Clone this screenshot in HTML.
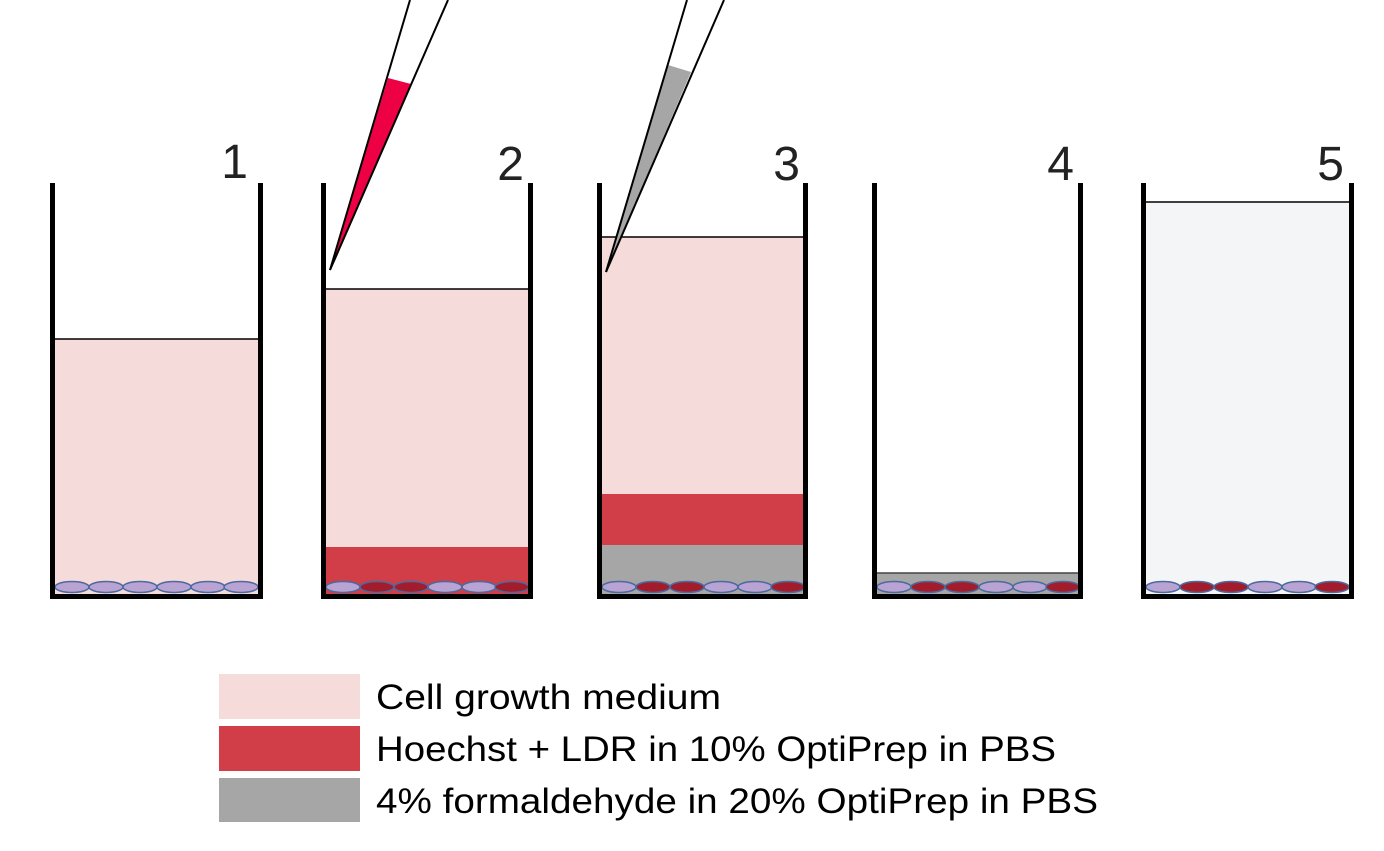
<!DOCTYPE html>
<html><head><meta charset="utf-8"><style>
html,body{margin:0;padding:0;background:#fff;}
svg{display:block;}
text{font-family:"Liberation Sans",sans-serif;}
</style></head><body>
<svg width="1384" height="851" viewBox="0 0 1384 851">
<defs>
<g id="cellL"><ellipse rx="17" ry="5.5" fill="#b9a3d3" stroke="#4a6aa0" stroke-width="1.5"/></g>
<g id="cellR"><ellipse rx="17" ry="5.5" fill="#a31c2c" stroke="#4a6aa0" stroke-width="1.5"/></g>
</defs>

<g>
<rect x="55" y="339" width="203" height="255" fill="#f6dbdb"/>
<line x1="55" y1="339" x2="258" y2="339" stroke="#000" stroke-width="1.5"/>
<use href="#cellL" x="72" y="587"/><use href="#cellL" x="106" y="587"/><use href="#cellL" x="140" y="587"/><use href="#cellL" x="174" y="587"/><use href="#cellL" x="208" y="587"/><use href="#cellL" x="241" y="587"/>
<path d="M52.5 183 V596.5 H260.5 V183" fill="none" stroke="#000" stroke-width="5"/>
<text x="248" y="178" font-size="48" text-anchor="end" fill="#222">1</text>
</g>

<g>
<rect x="326" y="289" width="202" height="258" fill="#f6dbdb"/>
<rect x="326" y="547" width="202" height="47" fill="#d13e48"/>
<line x1="326" y1="289" x2="528" y2="289" stroke="#000" stroke-width="1.5"/>
<use href="#cellL" x="343" y="587"/><use href="#cellR" x="377" y="587"/><use href="#cellR" x="411" y="587"/><use href="#cellL" x="445" y="587"/><use href="#cellL" x="479" y="587"/><use href="#cellR" x="512" y="587"/>
<path d="M323.5 183 V596.5 H530.5 V183" fill="none" stroke="#000" stroke-width="5"/>
<text x="524" y="180" font-size="48" text-anchor="end" fill="#222">2</text>
<polygon points="330,270 388,78 411,84" fill="#ee0044"/>
<line x1="330" y1="270" x2="410" y2="0" stroke="#000" stroke-width="2"/>
<line x1="330" y1="270" x2="448" y2="0" stroke="#000" stroke-width="2"/>
</g>

<g>
<rect x="602" y="237" width="201" height="257" fill="#f6dbdb"/>
<rect x="602" y="494" width="201" height="51" fill="#d13e48"/>
<rect x="602" y="545" width="201" height="49" fill="#a6a6a6"/>
<line x1="602" y1="237" x2="803" y2="237" stroke="#000" stroke-width="1.5"/>
<use href="#cellL" x="619" y="587"/><use href="#cellR" x="653" y="587"/><use href="#cellR" x="687" y="587"/><use href="#cellL" x="721" y="587"/><use href="#cellL" x="755" y="587"/><use href="#cellR" x="788" y="587"/>
<path d="M599.5 183 V596.5 H805.5 V183" fill="none" stroke="#000" stroke-width="5"/>
<text x="800" y="180" font-size="48" text-anchor="end" fill="#222">3</text>
<polygon points="606,272 668,65 691,72" fill="#a6a6a6"/>
<line x1="606" y1="272" x2="687" y2="0" stroke="#000" stroke-width="2"/>
<line x1="606" y1="272" x2="724" y2="0" stroke="#000" stroke-width="2"/>
</g>

<g>
<rect x="877" y="573" width="201" height="21" fill="#a6a6a6"/>
<line x1="877" y1="573" x2="1078" y2="573" stroke="#444" stroke-width="1.5"/>
<use href="#cellL" x="894" y="587"/><use href="#cellR" x="928" y="587"/><use href="#cellR" x="962" y="587"/><use href="#cellL" x="996" y="587"/><use href="#cellL" x="1030" y="587"/><use href="#cellR" x="1063" y="587"/>
<path d="M874.5 183 V596.5 H1080.5 V183" fill="none" stroke="#000" stroke-width="5"/>
<text x="1074" y="180" font-size="48" text-anchor="end" fill="#222">4</text>
</g>

<g>
<rect x="1146" y="202" width="203" height="392" fill="#f4f5f7"/>
<line x1="1146" y1="202" x2="1349" y2="202" stroke="#000" stroke-width="1.5"/>
<use href="#cellL" x="1163" y="587"/><use href="#cellR" x="1197" y="587"/><use href="#cellR" x="1231" y="587"/><use href="#cellL" x="1265" y="587"/><use href="#cellL" x="1299" y="587"/><use href="#cellR" x="1332" y="587"/>
<path d="M1143.5 183 V596.5 H1351.5 V183" fill="none" stroke="#000" stroke-width="5"/>
<text x="1344" y="180" font-size="48" text-anchor="end" fill="#222">5</text>
</g>

<g>
<g>
<rect x="219" y="674" width="141" height="45" fill="#f6dbdb"/>
<text x="376" y="709" font-size="35" fill="#000" textLength="345" lengthAdjust="spacingAndGlyphs">Cell growth medium</text>
</g>
<g>
<rect x="219" y="726" width="141" height="45" fill="#d13e48"/>
<text x="376" y="761" font-size="35" fill="#000" textLength="680" lengthAdjust="spacingAndGlyphs">Hoechst + LDR in 10% OptiPrep in PBS</text>
</g>
<g>
<rect x="219" y="778" width="141" height="44" fill="#a6a6a6"/>
<text x="376" y="813" font-size="35" fill="#000" textLength="722" lengthAdjust="spacingAndGlyphs">4% formaldehyde in 20% OptiPrep in PBS</text>
</g>
</g>
</svg>
</body></html>
